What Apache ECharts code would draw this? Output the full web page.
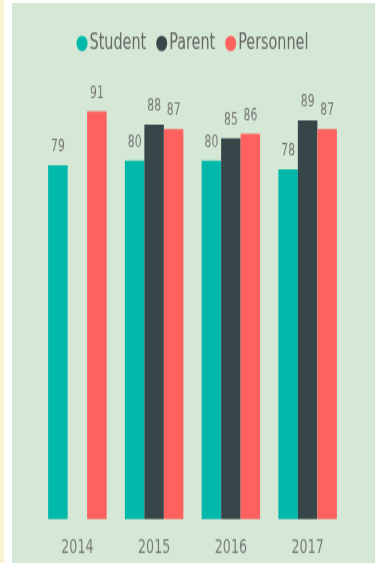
<!DOCTYPE html>
<html>
<head>
<meta charset="utf-8">
<script src="https://cdn.jsdelivr.net/npm/echarts@6/dist/echarts.min.js"></script>
<style>
  html, body { margin: 0; padding: 0; background: #ffffff; width: 385px; height: 563px; overflow: hidden; }
  #strip { position: absolute; left: 0; top: 0; width: 4px; height: 563px; background: #fbf2cf; }
  #panel { position: absolute; left: 12px; top: 3px; width: 363px; height: 560px; background: #d4e8d5; }
  #chart { position: absolute; left: 0; top: 0; width: 385px; height: 402px; transform: scaleY(1.4); transform-origin: 0 0; }
</style>
</head>
<body>
<div id="strip"></div>
<div id="panel"></div>
<div id="chart"></div>
<script>
const categories = ['2014', '2015', '2016', '2017'];
const studentValues = [79, 80, 80, 78];
const parentValues = [null, 88, 85, 89];
const personnelValues = [91, 87, 86, 87];
const seriesNames = ['Student', 'Parent', 'Personnel'];
const colors = ['#01B8AA', '#374649', '#FD625E'];

const font = '"DejaVu Sans Condensed", "Liberation Sans Narrow", "Roboto", sans-serif';

const chart = echarts.init(document.getElementById('chart'), null, { renderer: 'canvas' });

function barSeries(name, data, color) {
  return {
    name: name,
    type: 'bar',
    data: data,
    barWidth: 19.5,
    barGap: '0%',
    itemStyle: { color: color },
    label: {
      show: true,
      position: 'top',
      distance: 7,
      color: '#777777',
      fontFamily: font,
      fontSize: 12
    }
  };
}

chart.setOption({
  backgroundColor: 'transparent',
  animation: false,
  legend: {
    top: 18,
    left: 'center',
    icon: 'circle',
    itemWidth: 11,
    itemHeight: 11,
    itemGap: 10,
    textStyle: { color: '#666666', fontFamily: font, fontSize: 16, padding: [0, 0, 0, -3] },
    data: seriesNames
  },
  grid: { left: 39, right: 39, top: 50.7, bottom: 31.3 },
  xAxis: {
    type: 'category',
    data: categories,
    axisLine: { show: false },
    axisTick: { show: false },
    axisLabel: { color: '#7a7a7a', fontFamily: font, fontSize: 14, margin: 14 }
  },
  yAxis: {
    type: 'value',
    min: 0,
    max: 100,
    show: false,
    splitLine: { show: false }
  },
  series: [
    barSeries(seriesNames[0], studentValues, colors[0]),
    barSeries(seriesNames[1], parentValues, colors[1]),
    barSeries(seriesNames[2], personnelValues, colors[2])
  ]
});
</script>
</body>
</html>
